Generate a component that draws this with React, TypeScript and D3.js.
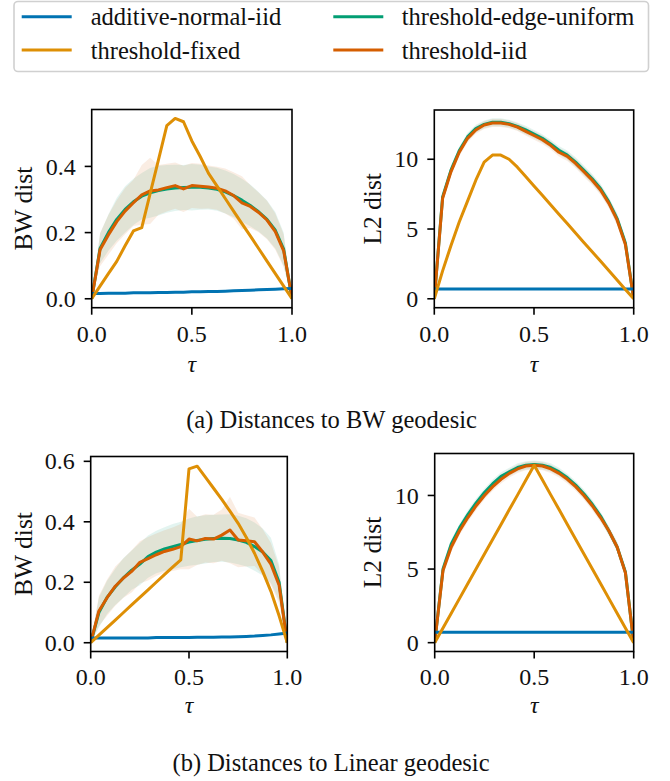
import React from "react";
import * as d3 from "d3";

// ---------- data ----------
const TAU = [
  0, 0.0417, 0.0833, 0.125, 0.1667, 0.2083, 0.25, 0.2917, 0.3333, 0.375, 0.4167, 0.4583, 0.5,
  0.5417, 0.5833, 0.625, 0.6667, 0.7083, 0.75, 0.7917, 0.8333, 0.875, 0.9167, 0.9583, 1,
];

const SERIES = ["additive-normal-iid", "threshold-fixed", "threshold-edge-uniform", "threshold-iid"];
const COLORS = ["#0173b2", "#de8f05", "#029e73", "#d55e00"];

// (a) BW dist to BW geodesic
const bwBW_additive = [0.016, 0.016, 0.017, 0.017, 0.017, 0.018, 0.018, 0.018, 0.019, 0.019, 0.02, 0.02, 0.021, 0.021, 0.022, 0.022, 0.023, 0.024, 0.025, 0.026, 0.027, 0.028, 0.029, 0.03, 0.031];
const bwBW_fixed = [0, 0.038, 0.076, 0.113, 0.16, 0.205, 0.215, 0.318, 0.42, 0.523, 0.545, 0.535, 0.477, 0.43, 0.379, 0.341, 0.303, 0.265, 0.227, 0.19, 0.152, 0.114, 0.076, 0.038, 0];
const bwBW_edge = [0, 0.152, 0.2, 0.24, 0.27, 0.293, 0.31, 0.32, 0.327, 0.332, 0.335, 0.336, 0.337, 0.337, 0.335, 0.331, 0.323, 0.312, 0.298, 0.282, 0.263, 0.24, 0.207, 0.15, 0];
const bwBW_iid = [0, 0.148, 0.193, 0.233, 0.265, 0.29, 0.314, 0.326, 0.329, 0.336, 0.342, 0.332, 0.342, 0.34, 0.338, 0.334, 0.326, 0.312, 0.29, 0.279, 0.261, 0.238, 0.203, 0.145, 0.004];
const bwBW_edgeStd = [0, 0.045, 0.055, 0.065, 0.07, 0.07, 0.07, 0.075, 0.075, 0.072, 0.07, 0.068, 0.07, 0.068, 0.065, 0.065, 0.065, 0.065, 0.065, 0.063, 0.06, 0.058, 0.055, 0.05, 0];
const bwBW_iidStd = [0, 0.05, 0.06, 0.065, 0.07, 0.07, 0.09, 0.1, 0.075, 0.072, 0.07, 0.07, 0.068, 0.068, 0.065, 0.065, 0.068, 0.07, 0.08, 0.065, 0.06, 0.058, 0.055, 0.05, 0];

// (a) L2 dist to BW geodesic
const l2BW_additive = [0.7, 0.7, 0.7, 0.7, 0.7, 0.7, 0.7, 0.7, 0.7, 0.7, 0.7, 0.7, 0.7, 0.7, 0.7, 0.7, 0.7, 0.7, 0.7, 0.7, 0.7, 0.7, 0.7, 0.7, 0.7];
const l2BW_fixed = [0, 2.0, 3.8, 5.5, 7.0, 8.5, 9.8, 10.3, 10.3, 10.0, 9.43, 8.76, 8.09, 7.42, 6.74, 6.06, 5.39, 4.72, 4.04, 3.37, 2.7, 2.02, 1.35, 0.67, 0];
const l2BW_edge = [0, 7.3, 9.2, 10.6, 11.6, 12.2, 12.5, 12.65, 12.65, 12.55, 12.35, 12.1, 11.8, 11.5, 11.1, 10.65, 10.3, 9.8, 9.2, 8.6, 7.9, 6.95, 5.75, 4.0, 0];
const l2BW_iid = [0, 7.2, 9.1, 10.5, 11.5, 12.1, 12.45, 12.6, 12.6, 12.5, 12.3, 12.0, 11.7, 11.4, 11.0, 10.5, 10.2, 9.7, 9.1, 8.5, 7.8, 6.85, 5.65, 3.9, 0];
const l2BW_edgeStd = [0, 0.35, 0.35, 0.3, 0.3, 0.28, 0.28, 0.28, 0.28, 0.28, 0.28, 0.3, 0.3, 0.3, 0.3, 0.3, 0.32, 0.35, 0.35, 0.35, 0.35, 0.35, 0.4, 0.4, 0];
const l2BW_iidStd = [0, 0.35, 0.35, 0.3, 0.3, 0.28, 0.28, 0.28, 0.28, 0.28, 0.28, 0.3, 0.3, 0.3, 0.3, 0.3, 0.32, 0.33, 0.35, 0.35, 0.35, 0.35, 0.4, 0.4, 0];

// (b) BW dist to Linear geodesic
const bwLin_additive = [0.016, 0.016, 0.016, 0.016, 0.016, 0.016, 0.016, 0.016, 0.017, 0.017, 0.017, 0.017, 0.017, 0.018, 0.018, 0.018, 0.019, 0.019, 0.02, 0.021, 0.022, 0.024, 0.026, 0.029, 0.032];
const bwLin_fixed = [0, 0.025, 0.05, 0.075, 0.1, 0.125, 0.15, 0.175, 0.2, 0.225, 0.25, 0.274, 0.575, 0.584, 0.548, 0.511, 0.474, 0.435, 0.395, 0.348, 0.296, 0.236, 0.17, 0.089, 0];
const bwLin_edge = [0, 0.1, 0.15, 0.185, 0.215, 0.24, 0.26, 0.285, 0.3, 0.31, 0.318, 0.325, 0.333, 0.338, 0.342, 0.345, 0.346, 0.345, 0.34, 0.332, 0.318, 0.3, 0.272, 0.2, 0];
const bwLin_iid = [0, 0.105, 0.149, 0.187, 0.214, 0.236, 0.266, 0.278, 0.291, 0.302, 0.309, 0.318, 0.343, 0.337, 0.345, 0.343, 0.356, 0.373, 0.34, 0.337, 0.334, 0.3, 0.26, 0.19, 0];
const bwLin_edgeStd = [0, 0.05, 0.055, 0.06, 0.065, 0.065, 0.07, 0.07, 0.07, 0.072, 0.075, 0.075, 0.078, 0.08, 0.08, 0.078, 0.078, 0.08, 0.08, 0.08, 0.08, 0.078, 0.075, 0.06, 0];
const bwLin_iidStd = [0, 0.05, 0.06, 0.065, 0.065, 0.07, 0.07, 0.072, 0.07, 0.07, 0.072, 0.075, 0.1, 0.08, 0.08, 0.08, 0.085, 0.11, 0.09, 0.085, 0.08, 0.075, 0.07, 0.06, 0];

// (b) L2 dist to Linear geodesic
const l2Lin_additive = [0.7, 0.7, 0.7, 0.7, 0.7, 0.7, 0.7, 0.7, 0.7, 0.7, 0.7, 0.7, 0.7, 0.7, 0.7, 0.7, 0.7, 0.7, 0.7, 0.7, 0.7, 0.7, 0.7, 0.7, 0.7];
const l2Lin_fixed = [0, 1.0, 2.0, 3.01, 4.02, 5.02, 6.03, 7.03, 8.03, 9.04, 10.04, 11.05, 12.05, 11.05, 10.04, 9.04, 8.03, 7.03, 6.03, 5.02, 4.02, 3.01, 2.0, 1.0, 0];
const l2Lin_edge = [0, 5.0, 6.7, 7.8, 8.7, 9.5, 10.2, 10.8, 11.3, 11.6, 11.9, 12.05, 12.1, 12.05, 11.9, 11.6, 11.2, 10.7, 10.1, 9.4, 8.6, 7.6, 6.5, 4.8, 0];
const l2Lin_iid = [0, 4.9, 6.5, 7.6, 8.5, 9.3, 10.0, 10.6, 11.1, 11.5, 11.8, 12.0, 12.05, 12.0, 11.8, 11.5, 11.1, 10.6, 10.0, 9.3, 8.5, 7.6, 6.5, 4.75, 0];
const l2Lin_edgeStd = [0, 0.35, 0.33, 0.3, 0.3, 0.3, 0.28, 0.28, 0.28, 0.28, 0.28, 0.28, 0.28, 0.28, 0.28, 0.28, 0.28, 0.28, 0.3, 0.3, 0.3, 0.3, 0.33, 0.35, 0];
const l2Lin_iidStd = [0, 0.35, 0.33, 0.3, 0.3, 0.3, 0.28, 0.28, 0.28, 0.28, 0.28, 0.28, 0.28, 0.28, 0.28, 0.28, 0.28, 0.28, 0.3, 0.3, 0.3, 0.3, 0.33, 0.35, 0];

const X_TICKS = [0, 0.5, 1.0];
const BW_TICKS = [0, 0.2, 0.4];
const BW_TICKS_B = [0, 0.2, 0.4, 0.6];
const L2_TICKS = [0, 5, 10];

const CAPTION_A = "(a) Distances to BW geodesic";
const CAPTION_B = "(b) Distances to Linear geodesic";

// ---------- layout ----------
const W = 670;
const H = 781;
const SERIF = "'Liberation Serif', 'Times New Roman', Times, serif";

type Panel = {
  x0: number; x1: number; y0: number; y1: number;
  yDomain: [number, number];
  yTicks: number[];
  yFmt: (v: number) => string;
  yLabel: string;
  labelX: number;
  tickBase: number;
  tauBase: number;
  lines: number[][];
  stds: [number[], number[]];
};

const f1 = d3.format(".1f");
const f0 = d3.format("d");

const PANELS: Panel[] = [
  {
    x0: 91.7, x1: 292, y0: 109.5, y1: 307.7, yDomain: [-0.027, 0.572], yTicks: BW_TICKS, yFmt: f1,
    yLabel: "BW dist", labelX: 23, tickBase: 342, tauBase: 372,
    lines: [bwBW_additive, bwBW_fixed, bwBW_edge, bwBW_iid], stds: [bwBW_edgeStd, bwBW_iidStd],
  },
  {
    x0: 434.3, x1: 633.7, y0: 110, y1: 307.7, yDomain: [-0.64, 13.53], yTicks: L2_TICKS, yFmt: f0,
    yLabel: "L2 dist", labelX: 372, tickBase: 342, tauBase: 372,
    lines: [l2BW_additive, l2BW_fixed, l2BW_edge, l2BW_iid], stds: [l2BW_edgeStd, l2BW_iidStd],
  },
  {
    x0: 90.7, x1: 287.3, y0: 456.5, y1: 651.5, yDomain: [-0.029, 0.616], yTicks: BW_TICKS_B, yFmt: f1,
    yLabel: "BW dist", labelX: 23, tickBase: 684.5, tauBase: 713,
    lines: [bwLin_additive, bwLin_fixed, bwLin_edge, bwLin_iid], stds: [bwLin_edgeStd, bwLin_iidStd],
  },
  {
    x0: 434.7, x1: 633.7, y0: 453.5, y1: 651.5, yDomain: [-0.6, 12.85], yTicks: L2_TICKS, yFmt: f0,
    yLabel: "L2 dist", labelX: 372, tickBase: 684.5, tauBase: 713,
    lines: [l2Lin_additive, l2Lin_fixed, l2Lin_edge, l2Lin_iid], stds: [l2Lin_edgeStd, l2Lin_iidStd],
  },
];

function PanelView({ p, idx }: { p: Panel; idx: number }) {
  const x = d3.scaleLinear().domain([0, 1]).range([p.x0, p.x1]);
  const y = d3.scaleLinear().domain(p.yDomain).range([p.y1, p.y0]);
  const line = d3.line<number>().x((_, i) => x(TAU[i])).y((v) => y(v));
  const clipId = `clip-${idx}`;
  const bands = [2, 3].map((si, j) => {
    const mean = p.lines[si];
    const std = p.stds[j];
    const area = d3
      .area<number>()
      .x((_, i) => x(TAU[i]))
      .y0((v, i) => y(v - std[i]))
      .y1((v, i) => y(v + std[i]));
    return { d: area(mean) || "", color: COLORS[si] };
  });
  // draw order: edge-uniform, iid, additive, fixed
  const order = [2, 3, 0, 1];
  const tickLen = 7;
  return (
    <g>
      <defs>
        <clipPath id={clipId}>
          <rect x={p.x0} y={p.y0} width={p.x1 - p.x0} height={p.y1 - p.y0} />
        </clipPath>
      </defs>
      <g clipPath={`url(#${clipId})`}>
        {bands.map((b, i) => (
          <path key={i} d={b.d} fill={b.color} fillOpacity={0.11} stroke="none" />
        ))}
        {order.map((si) => (
          <path
            key={si}
            d={line(p.lines[si]) || ""}
            fill="none"
            stroke={COLORS[si]}
            strokeWidth={3}
            strokeLinejoin="round"
            strokeLinecap="butt"
          />
        ))}
      </g>
      <rect x={p.x0} y={p.y0} width={p.x1 - p.x0} height={p.y1 - p.y0} fill="none" stroke="#000" strokeWidth={1.6} />
      {p.yTicks.map((t) => (
        <g key={`y${t}`}>
          <line x1={p.x0 - tickLen} x2={p.x0} y1={y(t)} y2={y(t)} stroke="#000" strokeWidth={1.6} />
          <text
            x={p.x0 - 16}
            y={y(t)}
            dy="0.34em"
            textAnchor="end"
            fontFamily={SERIF}
            fontSize={24}
            fill="#111"
          >
            {p.yFmt(t)}
          </text>
        </g>
      ))}
      {X_TICKS.map((t) => (
        <g key={`x${t}`}>
          <line x1={x(t)} x2={x(t)} y1={p.y1} y2={p.y1 + tickLen} stroke="#000" strokeWidth={1.6} />
          <text x={x(t)} y={p.tickBase} textAnchor="middle" fontFamily={SERIF} fontSize={24} fill="#111">
            {f1(t)}
          </text>
        </g>
      ))}
      <text
        x={(p.x0 + p.x1) / 2}
        y={p.tauBase}
        textAnchor="middle"
        fontFamily={SERIF}
        fontStyle="italic"
        fontSize={24}
        fill="#111"
      >
        τ
      </text>
      <text
        transform={`translate(${p.labelX},${(p.y0 + p.y1) / 2}) rotate(-90)`}
        textAnchor="middle"
        dy="0.35em"
        fontFamily={SERIF}
        fontSize={25.5}
        fill="#111"
      >
        {p.yLabel}
      </text>
    </g>
  );
}

function Legend() {
  const items = [
    { s: 0, lx: 21.7, tx: 90.7, cy: 16.7 },
    { s: 1, lx: 21.7, tx: 90.7, cy: 50 },
    { s: 2, lx: 333.3, tx: 401.7, cy: 16.7 },
    { s: 3, lx: 333.3, tx: 401.7, cy: 50 },
  ];
  return (
    <g>
      <rect x={14} y={1.5} width={634.5} height={70} rx={4} fill="#fff" fillOpacity={0.8} stroke="#d0d0d0" strokeWidth={1.6} />
      {items.map((it) => (
        <g key={it.s}>
          <line x1={it.lx} x2={it.lx + 50} y1={it.cy} y2={it.cy} stroke={COLORS[it.s]} strokeWidth={3} />
          <text x={it.tx} y={it.cy + 8.5} fontFamily={SERIF} fontSize={24.5} fill="#111">
            {SERIES[it.s]}
          </text>
        </g>
      ))}
    </g>
  );
}

export default function App() {
  return (
    <svg
      width={W}
      height={H}
      viewBox={`0 0 ${W} ${H}`}
      style={{ position: "absolute", left: 0, top: 0, background: "#fff" }}
    >
      <rect x={0} y={0} width={W} height={H} fill="#fff" />
      <Legend />
      {PANELS.map((p, i) => (
        <PanelView key={i} p={p} idx={i} />
      ))}
      <text x={331.5} y={428} textAnchor="middle" fontFamily={SERIF} fontSize={24.5} fill="#111">
        {CAPTION_A}
      </text>
      <text x={331} y={771} textAnchor="middle" fontFamily={SERIF} fontSize={24.5} fill="#111">
        {CAPTION_B}
      </text>
    </svg>
  );
}
